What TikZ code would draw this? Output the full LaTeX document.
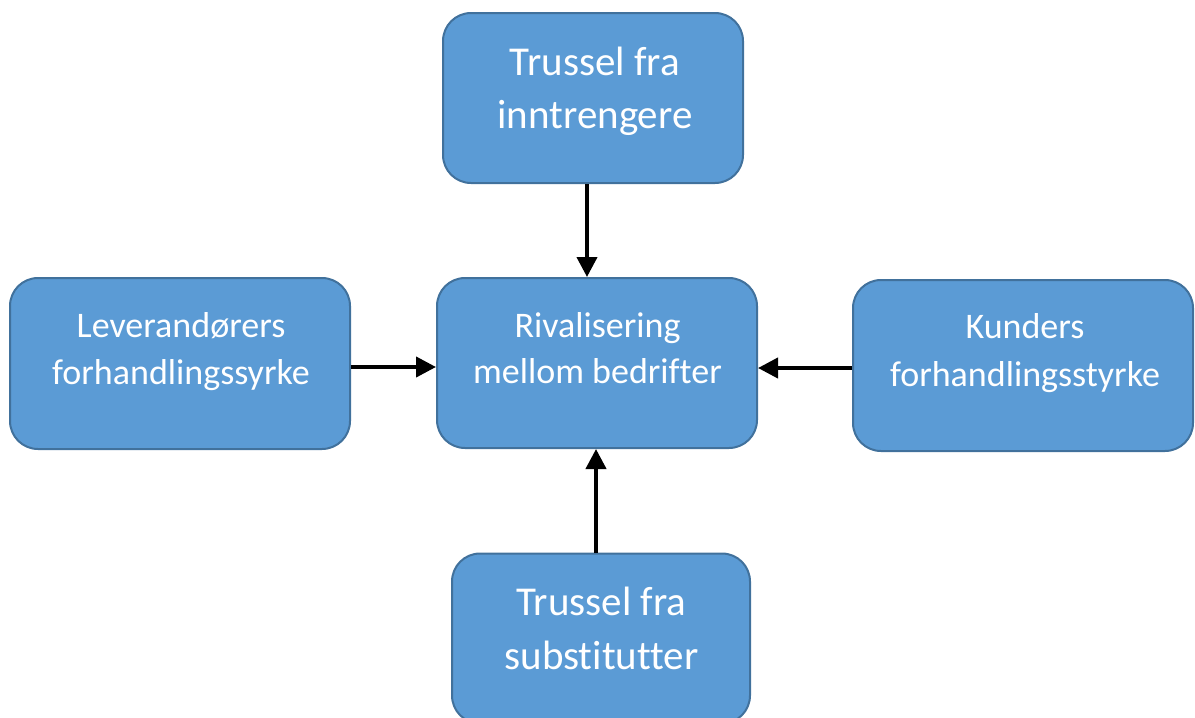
\documentclass[tikz,border=0pt]{standalone}
\usepackage{fontspec}
\setmainfont{Carlito}[Ligatures={NoCommon}]
\usetikzlibrary{arrows.meta}
\definecolor{boxfill}{HTML}{5B9BD5}
\definecolor{boxline}{HTML}{41719C}
\tikzset{
  box/.style={draw=boxline, fill=boxfill, line width=2pt, rounded corners=28pt, inner sep=0pt},
  big/.style={text=white, anchor=base, inner sep=0pt, font=\fontsize{41}{53}\selectfont},
  small/.style={text=white, anchor=base, inner sep=0pt, font=\fontsize{36}{47}\selectfont},
  arr/.style={line width=4pt, -{Triangle[length=20pt,width=20pt]}},
}
\begin{document}
\begin{tikzpicture}[x=1pt,y=-1pt]
\useasboundingbox (0,0) rectangle (1195,718);
\begin{scope}
\clip (0,0) rectangle (1195,718);
% boxes
\node[box, minimum width=300pt, minimum height=170pt] (t) at (593,98) {};
\node[box, minimum width=320pt, minimum height=170pt] (c) at (597,363) {};
\node[box, minimum width=340pt, minimum height=171pt] (l) at (180,363.5) {};
\node[box, minimum width=340pt, minimum height=171pt] (r) at (1023,365.5) {};
\node[box, minimum width=298pt, minimum height=170pt] (b) at (601,638.5) {};
\end{scope}
% texts
\node[big] (t1) at (595,75) {Trussel fra};
\node[big] (t2) at (595,128) {inntrengere};
\node[small] (c1) at (597.5,337) {Rivalisering};
\node[small] (c2) at (597.5,383) {mellom bedrifter};
\node[small] (l1) at (181,337) {Leverandørers};
\node[small] (l2) at (181,384) {forhandlingssyrke};
\node[small] (r1) at (1025,338) {Kunders};
\node[small] (r2) at (1025,386) {forhandlingsstyrke};
\node[big] (b1) at (601.5,615) {Trussel fra};
\node[big] (b2) at (601.5,669) {substitutter};
% arrows
\draw[arr] ([xshift=-6pt]t.south) -- ([xshift=-6pt]t.south |- c.north);
\draw[arr] ([yshift=-3.5pt]l.east) -- ([yshift=-3.5pt]l.east -| c.west);
\draw[arr] ([yshift=-2.5pt]r.west) -- ([yshift=-2.5pt]r.west -| c.east);
\draw[arr] ([xshift=-5pt]b.north) -- ([xshift=-5pt]b.north |- c.south);
\end{tikzpicture}
\end{document}
